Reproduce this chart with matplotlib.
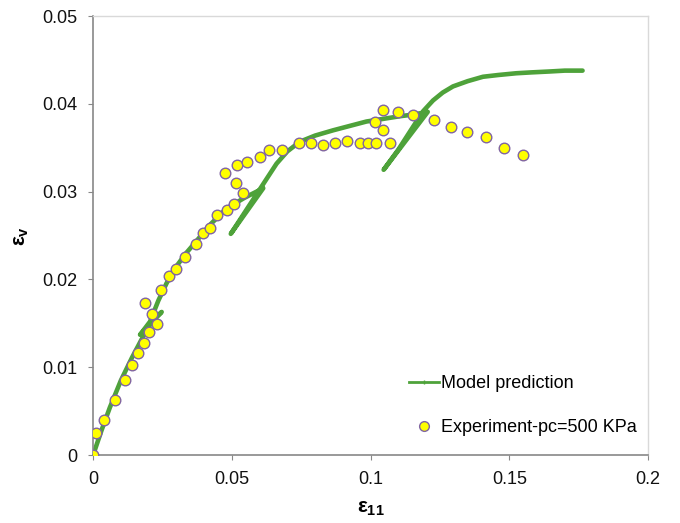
import matplotlib.pyplot as plt
from matplotlib.lines import Line2D

plt.rcParams['font.family'] = ['Liberation Sans', 'DejaVu Sans']
plt.rcParams['mathtext.fontset'] = 'custom'
plt.rcParams['mathtext.rm'] = 'Liberation Sans:bold'
plt.rcParams['mathtext.it'] = 'Liberation Sans:bold'
plt.rcParams['mathtext.bf'] = 'Liberation Sans:bold'

# model prediction, including the three unload/reload loops
model_e11 = [0.0, 0.003, 0.006, 0.010, 0.014, 0.018, 0.0215, 0.0247, 0.0169, 0.0205,
             0.0235, 0.0265, 0.030, 0.0335, 0.0373, 0.0420, 0.0481, 0.0545, 0.0613,
             0.0496, 0.0595, 0.0630, 0.0661, 0.0700, 0.0745, 0.0800, 0.0865, 0.0925,
             0.0985, 0.1045, 0.1105, 0.1155, 0.1206, 0.1047, 0.1100, 0.1153, 0.1190,
             0.1225, 0.1260, 0.1297, 0.1350, 0.1405, 0.1460, 0.1525, 0.1580, 0.1644,
             0.1700, 0.1764]
model_ev = [0.0, 0.0028, 0.0054, 0.0085, 0.0111, 0.0135, 0.0154, 0.0163, 0.0137, 0.0152,
            0.0176, 0.0196, 0.0215, 0.0230, 0.0244, 0.0262, 0.0281, 0.0293, 0.0304,
            0.0252, 0.0300, 0.0317, 0.0332, 0.0346, 0.0357, 0.0364, 0.0370, 0.0375,
            0.0380, 0.0383, 0.0386, 0.0388, 0.0391, 0.0325, 0.0348, 0.0374, 0.0392,
            0.0404, 0.0413, 0.0420, 0.0426, 0.0431, 0.0433, 0.0435, 0.0436, 0.0437,
            0.0438, 0.0438]

# experiment, pc = 500 KPa
exp_e11 = [0.0, 0.001, 0.004, 0.0079, 0.0113, 0.014, 0.016, 0.0185, 0.0202, 0.023,
           0.0212, 0.0188, 0.0245, 0.0272, 0.0299, 0.0331, 0.0369, 0.0397, 0.042,
           0.0447, 0.0482, 0.0509, 0.054, 0.0515, 0.0475, 0.0519, 0.0555, 0.0601,
           0.0635, 0.068, 0.0741, 0.0785, 0.0828, 0.087, 0.0915, 0.096, 0.0989,
           0.1021, 0.107, 0.1044, 0.1016, 0.1044, 0.1099, 0.1153, 0.1229, 0.129,
           0.1347, 0.1415, 0.148, 0.155]
exp_ev = [0.0, 0.0025, 0.0040, 0.0063, 0.0085, 0.0103, 0.0116, 0.0128, 0.0140, 0.0149,
          0.0161, 0.0173, 0.0188, 0.0204, 0.0212, 0.0226, 0.0241, 0.0253, 0.0259,
          0.0274, 0.0279, 0.0286, 0.0298, 0.0310, 0.0321, 0.0331, 0.0334, 0.0340,
          0.0348, 0.0348, 0.0355, 0.0356, 0.0353, 0.0355, 0.0358, 0.0356, 0.0356,
          0.0355, 0.0355, 0.0370, 0.0379, 0.0393, 0.0391, 0.0388, 0.0382, 0.0374,
          0.0368, 0.0362, 0.0350, 0.0342]

green = '#4ea23a'

fig = plt.figure(figsize=(6.8, 5.23), dpi=100)
ax = fig.add_axes([0.137, 0.130, 0.816, 0.839])

ax.plot(model_e11, model_ev, color=green, linewidth=3.3, solid_capstyle='round',
        solid_joinstyle='round', zorder=2)
ax.scatter(exp_e11, exp_ev, s=58, facecolor='#ffff00', edgecolor='#8064a2',
           linewidth=1.0, zorder=3)

ax.set_xlim(0, 0.2)
ax.set_ylim(0, 0.05)
ax.set_xticks([0, 0.05, 0.1, 0.15, 0.2])
ax.set_xticklabels(['0', '0.05', '0.1', '0.15', '0.2'])
ax.set_yticks([0, 0.01, 0.02, 0.03, 0.04, 0.05])
ax.set_yticklabels(['0', '0.01', '0.02', '0.03', '0.04', '0.05'])
ax.tick_params(labelsize=13, colors='#111111', length=3.5, color='#888888')
ax.tick_params(axis='x', pad=8)
ax.tick_params(axis='y', pad=8)

for side in ['left', 'bottom']:
    ax.spines[side].set_color('#888888')
    ax.spines[side].set_linewidth(1.2)
for side in ['top', 'right']:
    ax.spines[side].set_color('#d9d9d9')
    ax.spines[side].set_linewidth(1.0)

ax.set_xlabel(r'$ε_{11}$', fontsize=15, labelpad=8)
ax.set_ylabel(r'$ε_{v}$', fontsize=15, labelpad=8)

handles = [
    Line2D([], [], color=green, linewidth=2, marker='|', markersize=3,
           markeredgewidth=1),
    Line2D([], [], linestyle='none', marker='o', markersize=7,
           markerfacecolor='#ffff00', markeredgecolor='#8064a2'),
]
ax.legend(handles, ['Model prediction', 'Experiment-pc=500 KPa'],
          loc='upper left', bbox_to_anchor=(0.569, 0.182), frameon=False,
          borderpad=0, borderaxespad=0, fontsize=13, handlelength=1.65,
          handletextpad=0.15, labelspacing=1.5)

plt.savefig('out.png', dpi=100)
